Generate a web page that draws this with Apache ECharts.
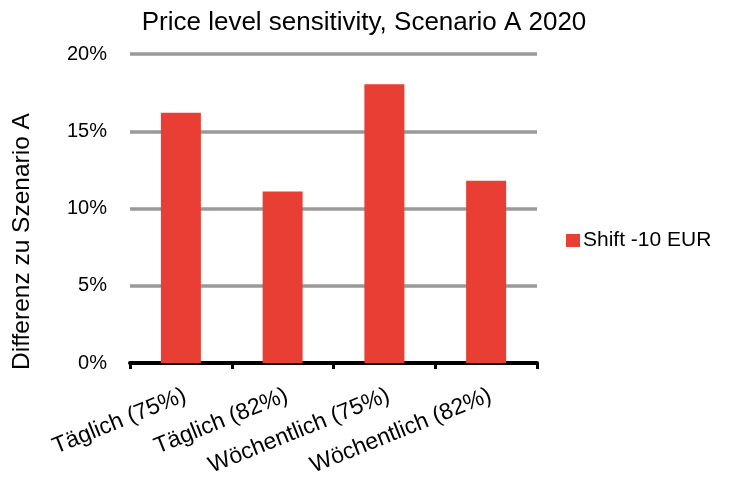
<!DOCTYPE html>
<html><head><meta charset="utf-8">
<script src="https://cdn.jsdelivr.net/npm/echarts@6/dist/echarts.min.js"></script>
<style>html,body{margin:0;padding:0;background:#fff}#c{width:731px;height:491px}</style>
</head><body><div id="c"></div>
<script>
var categories = ['Täglich (75%)', 'Täglich (82%)', 'Wöchentlich (75%)', 'Wöchentlich (82%)'];
var seriesName = 'Shift -10 EUR';
var values = [16.2, 11.1, 18.05, 11.8];
var yTicks = [0, 5, 10, 15, 20];
var chart = echarts.init(document.getElementById('c'));
var F = 'Liberation Sans, Arial, sans-serif';
chart.setOption({
  animation: false,
  title: { text: 'Price level sensitivity, Scenario A 2020', left: 359, top: 5, textAlign: 'center',
    textStyle: { fontFamily: F, fontSize: 26, fontWeight: 'normal', color: '#000' } },
  legend: { left: 561, top: 225, itemWidth: 14, itemHeight: 13, itemGap: 4, icon: 'rect',
    textStyle: { fontFamily: F, fontSize: 21, color: '#000', padding: [0,0,0,-2] },
    data: [seriesName] },
  grid: { left: 130, right: 194, top: 54, bottom: 128 },
  xAxis: { type: 'category', data: categories,
    axisLine: { lineStyle: { color: '#000', width: 4 } },
    axisTick: { show: true, length: 6, lineStyle: { color: '#000', width: 3 } },
    axisLabel: { rotate: 22, margin: 21, align: 'right', verticalAlign: 'top',
      fontFamily: F, fontSize: 23, color: '#000' } },
  yAxis: { type: 'value', min: 0, max: 20, interval: 5,
    name: 'Differenz zu Szenario A', nameLocation: 'middle', nameGap: 95, nameRotate: 90,
    nameTextStyle: { fontFamily: F, fontSize: 24.5, color: '#000', padding: [0, 66, 0, 0] },
    axisLine: { show: false }, axisTick: { show: false },
    axisLabel: { margin: 23, fontFamily: F, fontSize: 20, color: '#000',
      formatter: function (v) { return yTicks.indexOf(v) >= 0 ? v + '%' : ''; } },
    splitLine: { lineStyle: { color: '#999', width: 3.5 } } },
  series: [{ name: seriesName, type: 'bar', data: values, barWidth: 40,
    itemStyle: { color: '#e83e34' } }]
});
</script></body></html>
